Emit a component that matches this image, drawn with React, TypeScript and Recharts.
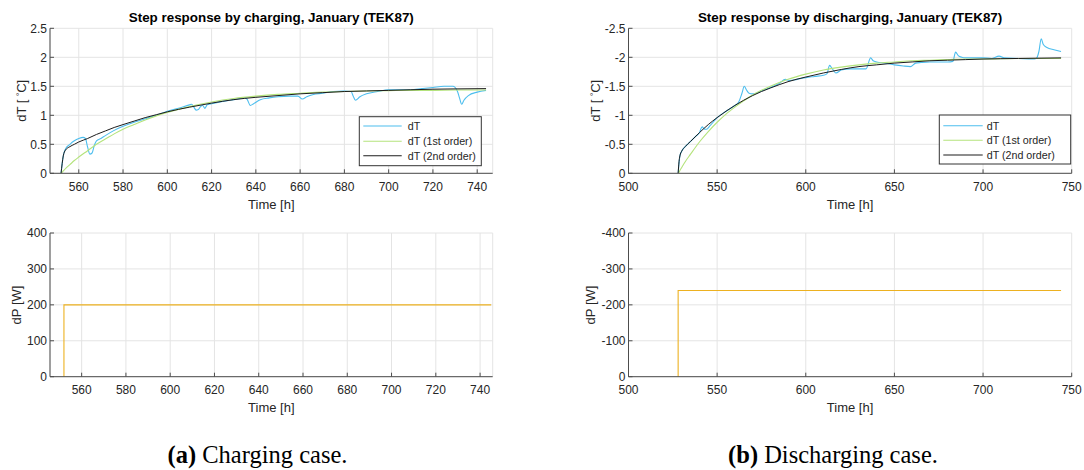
import { CartesianGrid, Line, LineChart, XAxis, YAxis } from "recharts";

const FONT = '"Liberation Sans", Arial, Helvetica, sans-serif';
const SERIF = '"Liberation Serif", "Times New Roman", serif';
const AXIS = "#4d4d4d";
const GRID = "#e4e4e4";
const TEXT = "#262626";
const BLUE = "#4dbeee";
const GREEN = "#b4e37c";
const BLACK = "#1c1c1c";
const YELLOW = "#edb120";

// charging case, step at t = 552 h
const chFitTime = [552, 553, 554, 556, 558, 560, 564, 568, 572, 576, 580, 585, 590, 595, 600, 610, 620, 630, 640, 650, 660, 670, 680, 690, 700, 710, 720, 730, 744];
const chFirst = [0, 0.04, 0.08, 0.15, 0.22, 0.28, 0.39, 0.5, 0.59, 0.68, 0.76, 0.84, 0.92, 0.99, 1.05, 1.15, 1.23, 1.29, 1.33, 1.36, 1.38, 1.4, 1.41, 1.42, 1.425, 1.43, 1.43, 1.435, 1.435];
const chSecond = [0, 0.3, 0.4, 0.46, 0.5, 0.54, 0.6, 0.67, 0.73, 0.79, 0.84, 0.9, 0.96, 1.01, 1.06, 1.14, 1.21, 1.27, 1.31, 1.34, 1.37, 1.39, 1.41, 1.42, 1.43, 1.44, 1.45, 1.455, 1.46];
const chMeasTime = [552, 553, 554, 556, 558, 560, 562, 563, 564, 565, 566, 567, 568, 570, 572, 576, 580, 585, 590, 595, 600, 605, 610, 611, 612, 613, 614, 615, 616, 617, 618, 620, 625, 630, 635, 636, 637.5, 639, 642, 646, 650, 655, 659, 661, 663, 666, 670, 675, 680, 683, 684, 685, 687, 690, 695, 700, 705, 710, 715, 720, 725, 729, 731, 732, 733, 734, 736, 740, 744];
const chMeas = [0, 0.3, 0.42, 0.5, 0.56, 0.6, 0.62, 0.6, 0.45, 0.33, 0.35, 0.48, 0.56, 0.6, 0.65, 0.74, 0.81, 0.88, 0.94, 1.0, 1.07, 1.12, 1.18, 1.19, 1.14, 1.09, 1.1, 1.15, 1.17, 1.12, 1.18, 1.2, 1.24, 1.27, 1.3, 1.28, 1.17, 1.2, 1.27, 1.3, 1.32, 1.33, 1.33, 1.28, 1.32, 1.36, 1.38, 1.41, 1.42, 1.41, 1.33, 1.26, 1.32, 1.37, 1.41, 1.44, 1.44, 1.44, 1.46, 1.48, 1.5, 1.5, 1.42, 1.3, 1.19, 1.26, 1.34, 1.4, 1.43];
const chStepTime = [552, 552, 745];
const chStepPower = [0, 200, 200];

// discharging case, step at t = 528 h
const disFitTime = [528, 528.5, 529, 530, 532, 535, 540, 545, 550, 555, 560, 565, 570, 575, 580, 590, 600, 610, 620, 630, 640, 650, 660, 670, 680, 690, 700, 720, 744];
const disFirst = [0, -0.02, -0.05, -0.1, -0.2, -0.33, -0.54, -0.72, -0.88, -1.02, -1.14, -1.25, -1.35, -1.43, -1.5, -1.62, -1.71, -1.78, -1.83, -1.87, -1.9, -1.92, -1.94, -1.95, -1.96, -1.97, -1.97, -1.98, -1.98];
const disSecond = [0, -0.2, -0.3, -0.38, -0.46, -0.55, -0.7, -0.84, -0.96, -1.07, -1.17, -1.26, -1.34, -1.41, -1.47, -1.58, -1.66, -1.73, -1.79, -1.84, -1.87, -1.9, -1.92, -1.94, -1.95, -1.96, -1.97, -1.98, -1.99];
const disMeasTime = [528, 529, 530, 532, 535, 538, 540, 541.5, 543, 544, 546, 550, 555, 560, 562, 564, 565.3, 566.5, 568, 570, 572, 575, 580, 585, 588.5, 591, 595, 600, 605, 610, 612, 613.4, 615, 617, 620, 625, 634, 636.6, 638, 640, 645, 650, 655, 659, 662, 665, 670, 680, 683, 684.5, 686, 688, 690, 700, 705, 709, 712, 720, 728, 730, 731.5, 732.8, 734, 736, 740, 744];
const disMeas = [0, -0.3, -0.38, -0.46, -0.55, -0.64, -0.7, -0.8, -0.76, -0.76, -0.82, -0.96, -1.07, -1.17, -1.22, -1.38, -1.5, -1.44, -1.38, -1.37, -1.38, -1.42, -1.48, -1.55, -1.62, -1.6, -1.62, -1.65, -1.67, -1.69, -1.72, -1.86, -1.8, -1.73, -1.78, -1.8, -1.8, -1.99, -1.94, -1.92, -1.9, -1.87, -1.85, -1.84, -1.9, -1.91, -1.92, -1.92, -1.93, -2.09, -2.03, -2.0, -1.99, -1.99, -1.98, -2.02, -1.99, -1.98, -1.97, -1.98, -2.1, -2.32, -2.22, -2.17, -2.13, -2.1];
const disStepTime = [528, 528, 744];
const disStepPower = [0, -240, -240];

const chTicks = [560, 580, 600, 620, 640, 660, 680, 700, 720, 740];
const disTicks = [500, 550, 600, 650, 700, 750];
const dtTicks = [0, 0.5, 1, 1.5, 2, 2.5];
const dtNegTicks = [-2.5, -2, -1.5, -1, -0.5, 0];
const dpTicks = [0, 100, 200, 300, 400];
const dpNegTicks = [-400, -300, -200, -100, 0];

type Pt = { t: number; v: number };
const zip = (ts: number[], vs: number[]): Pt[] => ts.map((t, i) => ({ t, v: vs[i] }));

type Series = { name: string; data: Pt[]; color: string; width: number; curve: "monotone" | "linear" };

const fitSeries = (mt: number[], m: number[], ft: number[], f1: number[], f2: number[]): Series[] => [
  { name: "dT", data: zip(mt, m), color: BLUE, width: 1.1, curve: "monotone" },
  { name: "dT (1st order)", data: zip(ft, f1), color: GREEN, width: 1.1, curve: "monotone" },
  { name: "dT (2nd order)", data: zip(ft, f2), color: BLACK, width: 1, curve: "monotone" },
];

type PanelProps = {
  x: number;
  y: number;
  w: number;
  h: number;
  margin: { top: number; right: number; bottom: number; left: number };
  xDomain: [number, number];
  xTicks: number[];
  yDomain: [number, number];
  yTicks: number[];
  reversed?: boolean;
  series: Series[];
};

function Panel({ x, y, w, h, margin, xDomain, xTicks, yDomain, yTicks, reversed, series }: PanelProps) {
  const tick = { fill: TEXT, fontSize: 12, fontFamily: FONT };
  const blank = () => "";
  return (
    <div style={{ position: "absolute", left: x, top: y }}>
      <LineChart width={w} height={h} margin={margin}>
        <CartesianGrid stroke={GRID} xAxisId="b" yAxisId="l" />
        <XAxis xAxisId="b" dataKey="t" type="number" domain={xDomain} ticks={xTicks} allowDataOverflow height={30} stroke={AXIS} tick={tick} tickSize={-4} tickMargin={13} />
        <XAxis xAxisId="t" orientation="top" dataKey="t" type="number" domain={xDomain} ticks={xTicks} allowDataOverflow height={0} stroke={AXIS} tickFormatter={blank} tickSize={-4} />
        <YAxis yAxisId="l" type="number" domain={yDomain} ticks={yTicks} allowDataOverflow reversed={reversed} width={40} stroke={AXIS} tick={tick} tickSize={-4} tickMargin={7} />
        <YAxis yAxisId="r" orientation="right" type="number" domain={yDomain} ticks={yTicks} allowDataOverflow reversed={reversed} width={0} stroke={AXIS} tickFormatter={blank} tickSize={-4} />
        {series.map((s) => (
          <Line
            key={s.name}
            xAxisId="b"
            yAxisId="l"
            data={s.data}
            dataKey="v"
            name={s.name}
            type={s.curve}
            stroke={s.color}
            strokeWidth={s.width}
            dot={false}
            activeDot={false}
            isAnimationActive={false}
          />
        ))}
      </LineChart>
    </div>
  );
}

function LegendBox({ x, y, w, lineX, textX, rows }: { x: number; y: number; w: number; lineX: [number, number]; textX: number; rows: number[] }) {
  const items = [
    { label: "dT", color: BLUE },
    { label: "dT (1st order)", color: GREEN },
    { label: "dT (2nd order)", color: BLACK },
  ];
  return (
    <g>
      <rect x={x} y={y} width={w} height={49} fill="#fff" stroke="#333" strokeWidth={1} />
      {items.map((it, i) => (
        <g key={it.label}>
          <line x1={lineX[0]} x2={lineX[1]} y1={rows[i]} y2={rows[i]} stroke={it.color} strokeWidth={1.1} />
          <text x={textX} y={rows[i] + 3.8} fontSize={10.7} fill={TEXT}>
            {it.label}
          </text>
        </g>
      ))}
    </g>
  );
}

function DegLabel({ x, y }: { x: number; y: number }) {
  return (
    <text transform={`translate(${x},${y}) rotate(-90)`} textAnchor="middle" fontSize={13} fill={TEXT}>
      {"dT [ "}
      <tspan dy={-4} fontSize={8}>°</tspan>
      <tspan dy={4}>C]</tspan>
    </text>
  );
}

export default function App() {
  const topM = { top: 28.3, bottom: 11.7 };
  const botM = { top: 18, bottom: 23.3 };
  const leftM = { left: 10, right: 49.3 };
  const rightM = { left: 46.5, right: 12.3 };
  return (
    <div style={{ position: "absolute", left: 0, top: 0, width: 1084, height: 470, background: "#fff", fontFamily: FONT }}>
      <Panel
        x={0}
        y={0}
        w={542}
        h={215}
        margin={{ ...topM, ...leftM }}
        xDomain={[547, 747]}
        xTicks={chTicks}
        yDomain={[0, 2.5]}
        yTicks={dtTicks}
        series={fitSeries(chMeasTime, chMeas, chFitTime, chFirst, chSecond)}
      />
      <Panel
        x={0}
        y={215}
        w={542}
        h={215}
        margin={{ ...botM, ...leftM }}
        xDomain={[545.7, 745.7]}
        xTicks={chTicks}
        yDomain={[0, 400]}
        yTicks={dpTicks}
        series={[{ name: "dP", data: zip(chStepTime, chStepPower), color: YELLOW, width: 1.1, curve: "linear" }]}
      />
      <Panel
        x={542}
        y={0}
        w={542}
        h={215}
        margin={{ ...topM, ...rightM }}
        xDomain={[500, 750]}
        xTicks={disTicks}
        yDomain={[-2.5, 0]}
        yTicks={dtNegTicks}
        reversed
        series={fitSeries(disMeasTime, disMeas, disFitTime, disFirst, disSecond)}
      />
      <Panel
        x={542}
        y={215}
        w={542}
        h={215}
        margin={{ ...botM, ...rightM }}
        xDomain={[500, 750]}
        xTicks={disTicks}
        yDomain={[-400, 0]}
        yTicks={dpNegTicks}
        reversed
        series={[{ name: "dP", data: zip(disStepTime, disStepPower), color: YELLOW, width: 1.1, curve: "linear" }]}
      />
      <svg width={1084} height={470} style={{ position: "absolute", left: 0, top: 0, pointerEvents: "none" }} fontFamily={FONT}>
        <text x={271.3} y={22.3} textAnchor="middle" fontWeight="bold" fontSize={13.4} fill="#000">
          Step response by charging, January (TEK87)
        </text>
        <text x={850.1} y={22.3} textAnchor="middle" fontWeight="bold" fontSize={13.4} fill="#000">
          Step response by discharging, January (TEK87)
        </text>
        <text x={271.3} y={208.5} textAnchor="middle" fontSize={13} fill={TEXT}>Time [h]</text>
        <text x={271.3} y={411.5} textAnchor="middle" fontSize={13} fill={TEXT}>Time [h]</text>
        <text x={850.1} y={208.5} textAnchor="middle" fontSize={13} fill={TEXT}>Time [h]</text>
        <text x={850.1} y={411.5} textAnchor="middle" fontSize={13} fill={TEXT}>Time [h]</text>
        <DegLabel x={26} y={100.8} />
        <DegLabel x={599.5} y={100.8} />
        <text transform="translate(21,305) rotate(-90)" textAnchor="middle" fontSize={13} fill={TEXT}>dP [W]</text>
        <text transform="translate(595,305) rotate(-90)" textAnchor="middle" fontSize={13} fill={TEXT}>dP [W]</text>
        <LegendBox x={359.3} y={116.7} w={122} lineX={[363.3, 401.7]} textX={407.7} rows={[126, 141.3, 155.7]} />
        <LegendBox x={939.3} y={115} w={131.4} lineX={[943.3, 982.7]} textX={986.7} rows={[125.7, 140.3, 155]} />
        <text x={257.5} y={463} textAnchor="middle" fontFamily={SERIF} fontSize={24.5} fill="#000">
          <tspan fontWeight="bold">(a)</tspan> Charging case.
        </text>
        <text x={833} y={463} textAnchor="middle" fontFamily={SERIF} fontSize={24.5} fill="#000">
          <tspan fontWeight="bold">(b)</tspan> Discharging case.
        </text>
      </svg>
    </div>
  );
}
